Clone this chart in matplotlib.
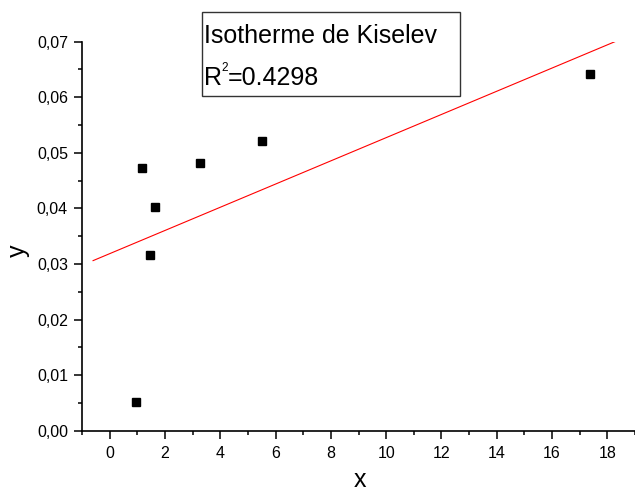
import numpy as np
import matplotlib
matplotlib.use('Agg')
import matplotlib.pyplot as plt
from matplotlib.ticker import MultipleLocator, FuncFormatter
from matplotlib.patches import Rectangle

plt.rcParams['font.family'] = ['Liberation Sans', 'DejaVu Sans']

# Data
x_data = [0.97, 1.18, 1.65, 1.46, 3.25, 5.50, 17.37]
y_data = [0.0051, 0.0472, 0.0402, 0.0316, 0.0482, 0.0521, 0.0641]
fit_range = [-0.6, 18.33]
title_text = 'Isotherme de Kiselev'
r2_value = '=0.4298'

# Linear fit of the points
slope, intercept = np.polyfit(x_data, y_data, 1)
fit_x = np.array(fit_range)
fit_y = slope * fit_x + intercept

W, H = 635, 492
fig = plt.figure(figsize=(W / 100, H / 100), dpi=100)
ax = fig.add_axes([82 / W, 1 - 430.7 / H, 553 / W, 389 / H])

ax.plot(x_data, y_data, 's', color='black', ms=5.2, mec='black', clip_on=False, zorder=3)
ax.plot(fit_x, fit_y, '-', color='#ff0000', lw=0.8)

ax.set_xlim(-1, 19)
ax.set_ylim(0, 0.07)
ax.xaxis.set_major_locator(MultipleLocator(2))
ax.xaxis.set_minor_locator(MultipleLocator(1))
ax.yaxis.set_major_locator(MultipleLocator(0.01))
ax.yaxis.set_minor_locator(MultipleLocator(0.005))
ax.yaxis.set_major_formatter(FuncFormatter(lambda v, p: f'{v:.2f}'.replace('.', ',')))

for s in ['top', 'right']:
    ax.spines[s].set_visible(False)
for s in ['left', 'bottom']:
    ax.spines[s].set_linewidth(1.2)

ax.tick_params(which='major', direction='out', length=5.8, width=1.1, labelsize=11.5)
ax.tick_params(which='minor', direction='out', length=2.9, width=1.1)
ax.tick_params(axis='x', which='major', pad=5.5)
ax.tick_params(axis='y', which='major', pad=4.3)

# axis labels
fig.text(360 / W, 1 - 487 / H, 'x', fontsize=18, ha='center', va='baseline')
fig.text(24.7 / W, 1 - 251 / H, 'y', fontsize=18, rotation=90, rotation_mode='anchor',
         ha='center', va='baseline')

# legend box with R² text
fig.patches.append(Rectangle((201.7 / W, 1 - 95.7 / H), (460 - 201.7) / W, (95.7 - 11.7) / H,
                             transform=fig.transFigure, fill=False, edgecolor='#333333', lw=1.0))
fig.text(204 / W, 1 - 43.3 / H, title_text, fontsize=18, ha='left', va='baseline')
r_txt = fig.text(204 / W, 1 - 85 / H, 'R', fontsize=18, ha='left', va='baseline')
sup = fig.add_artist(plt.Annotation('2', xy=(1, 0), xycoords=r_txt, xytext=(-0.5, 11.5),
                                    textcoords='offset points', fontsize=8.5,
                                    ha='left', va='bottom'))
fig.add_artist(plt.Annotation(r2_value, xy=(1, 0), xycoords=(sup, r_txt), xytext=(0.3, 0),
                              textcoords='offset points', fontsize=18,
                              ha='left', va='bottom'))

fig.savefig('out.png', dpi=100)
